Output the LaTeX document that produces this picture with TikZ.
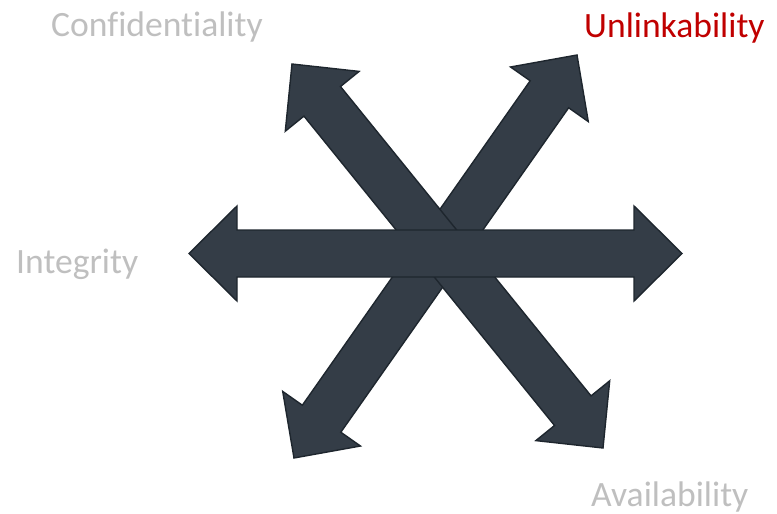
\documentclass[tikz,border=0pt]{standalone}
\usepackage{fontspec}
\setmainfont[Ligatures={NoCommon,NoRare}]{Carlito}
\usetikzlibrary{calc}
\definecolor{arrfill}{RGB}{52,61,71}
\definecolor{arrline}{RGB}{30,38,46}
\definecolor{lightgray}{RGB}{191,191,191}
\definecolor{darkred}{RGB}{192,0,0}
\tikzset{
  bigarrow/.style={fill=arrfill,draw=arrline,line width=1.4pt,line join=miter},
  label/.style={inner sep=0pt,anchor=base west,font=\fontsize{35.6}{40}\selectfont}
}
\newcommand\dblarr[2]{%
  \coordinate (ha) at ($(#1)!48pt!(#2)$);
  \coordinate (hb) at ($(#2)!48pt!(#1)$);
  \path[bigarrow] (#1) -- ($(ha)!47.5pt!90:(#1)$) -- ($(ha)!23.5pt!90:(#1)$)
    -- ($(hb)!23.5pt!-90:(#2)$) -- ($(hb)!47.5pt!-90:(#2)$) -- (#2)
    -- ($(hb)!47.5pt!90:(#2)$) -- ($(hb)!23.5pt!90:(#2)$)
    -- ($(ha)!23.5pt!-90:(#1)$) -- ($(ha)!47.5pt!-90:(#1)$) -- cycle;
}
\begin{document}
\begin{tikzpicture}[x=1pt,y=-1pt]
\useasboundingbox (0,0) rectangle (777,514);
\coordinate (ur) at (577,55);
\coordinate (ll) at (294,458);
\coordinate (ul) at (292,64);
\coordinate (lr) at (603,448);
\coordinate (hl) at (189,253.5);
\coordinate (hr) at (682,253.5);
\dblarr{ur}{ll}
\dblarr{ul}{lr}
\dblarr{hl}{hr}
\node[label,text=lightgray] (conf) at (51,36) {Confidentiality};
\node[label,text=darkred] (unl) at (584,37) {Unlinkability};
\node[label,text=lightgray] (integ) at (16,273) {Integrity};
\node[label,text=lightgray] (avail) at (591,506) {Availability};
\end{tikzpicture}
\end{document}
